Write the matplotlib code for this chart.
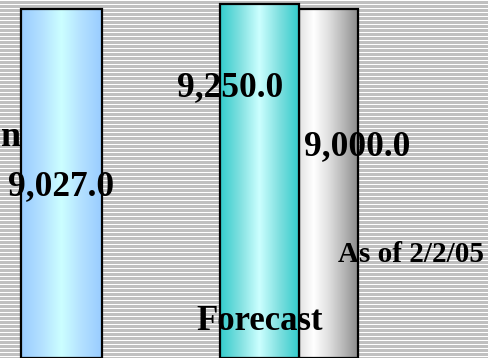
import numpy as np
import matplotlib
matplotlib.use('Agg')
import matplotlib.pyplot as plt
from matplotlib.colors import LinearSegmentedColormap

# data
labels = ['9,027.0', '9,250.0', '9,000.0']
values = [9027.0, 9250.0, 9000.0]
notes = ['n', 'Forecast', 'As of 2/2/05']

# layout (pixel units, image is 488 x 358)
W, H = 488, 358
bar_x = [61.5, 259.0, 328.5]
bar_w = [81, 79, 59]
bar_z = [3, 4, 2]
y_hi, y_lo = 9420.0, -6500.0

gradients = [
    ['#99ccff', '#b3e0ff', '#ccffff', '#b3e0ff', '#99ccff'],
    ['#33cccc', '#80e0e0', '#ccffff', '#80e0e0', '#33cccc'],
    ['#e2e2e2', '#ffffff', '#e0e0e0', '#b8b8b8', '#8c8c8c'],
]

fig = plt.figure(figsize=(W / 100, H / 100), dpi=100)

# striped background
bg = np.ones((H, W, 3)) * 0.753
bg[::4, :, :] = 1.0
fig.figimage(bg, 0, 0, zorder=-10)

ax = fig.add_axes([0, 0, 1, 1])
ax.set_facecolor('none')
ax.set_zorder(1)
ax.axis('off')

for i, v in enumerate(values):
    bar = ax.bar(bar_x[i], v - y_lo, bottom=y_lo, width=bar_w[i],
                 facecolor='none', edgecolor='black', linewidth=1.6,
                 zorder=bar_z[i] + 0.5)[0]
    cmap = LinearSegmentedColormap.from_list('g%d' % i, gradients[i])
    grad = np.linspace(0, 1, 256).reshape(1, -1)
    x0 = bar_x[i] - bar_w[i] / 2
    im = ax.imshow(grad, cmap=cmap, aspect='auto', interpolation='bilinear',
                   extent=[x0, x0 + bar_w[i], y_lo, v], zorder=bar_z[i])
    im.set_clip_path(bar)

ax.set_xlim(0, W)
ax.set_ylim(y_lo, y_hi)


def px(x, y):
    return x / W, 1 - y / H


font = dict(family='Liberation Serif', weight='bold', color='black', zorder=10)

# value labels
lab_pos = [(61.5, 187), (230.5, 88), (357, 147)]
for lab, (x, y) in zip(labels, lab_pos):
    fig.text(*px(x, y), lab, ha='center', va='center', fontsize=25.5, **font)

# other text
fig.text(*px(0.5, 137), notes[0], ha='left', va='center', fontsize=26, **font)
fig.text(*px(260, 321), notes[1], ha='center', va='center', fontsize=25, **font)
fig.text(*px(411.5, 254), notes[2], ha='center', va='center', fontsize=21, **font)

fig.savefig('out.png', dpi=100)
